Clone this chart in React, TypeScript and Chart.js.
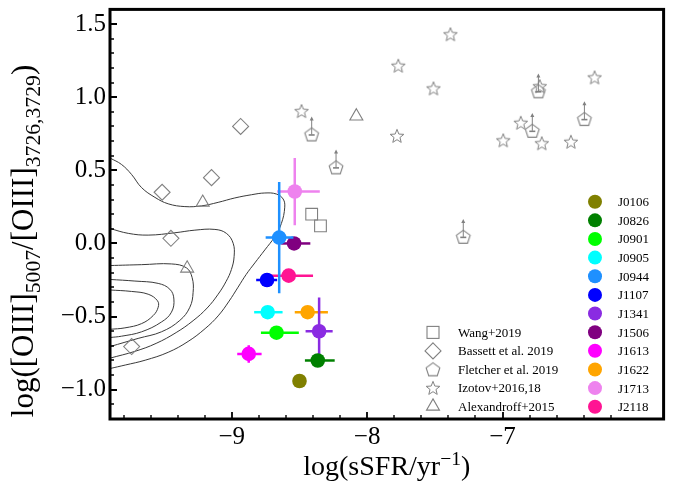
import React, { useEffect, useRef } from 'react';
import { Chart, registerables } from 'chart.js';

Chart.register(...registerables);

const FONT = "'Liberation Serif', 'Times New Roman', serif";

// ---------- axes ----------
const X_MIN = -9.9;
const X_MAX = -5.81;
const Y_MIN = -1.2;
const Y_MAX = 1.6;
const xMajorTicks = [-9, -8, -7];
const xMinorTicks = [-9.8, -9.6, -9.4, -9.2, -8.8, -8.6, -8.4, -8.2, -7.8, -7.6, -7.4, -7.2, -6.8, -6.6, -6.4, -6.2];
const yMajorTicks = [-1.0, -0.5, 0.0, 0.5, 1.0, 1.5];
const yMinorTicks = [-1.1, -0.9, -0.8, -0.7, -0.6, -0.4, -0.3, -0.2, -0.1, 0.1, 0.2, 0.3, 0.4, 0.6, 0.7, 0.8, 0.9, 1.1, 1.2, 1.3, 1.4];

// ---------- this work ----------
const galaxyNames = ['J0106', 'J0826', 'J0901', 'J0905', 'J0944', 'J1107', 'J1341', 'J1506', 'J1613', 'J1622', 'J1713', 'J2118'];
const galaxyColors = ['#808000', '#008000', '#00ff00', '#00ffff', '#1e90ff', '#0000ff', '#8a2be2', '#800080', '#ff00ff', '#ffa500', '#ee82ee', '#ff1493'];
const galaxySSFR = [-8.50, -8.365, -8.67, -8.735, -8.65, -8.74, -8.355, -8.54, -8.875, -8.44, -8.535, -8.58];
const galaxyO32 = [-0.94, -0.80, -0.61, -0.47, 0.04, -0.25, -0.60, 0.0, -0.755, -0.47, 0.355, -0.22];
const galaxyXErrLo = [0, 0.095, 0.115, 0.10, 0.10, 0.08, 0.10, 0.095, 0.085, 0.095, 0.13, 0.14];
const galaxyXErrHi = [0, 0.125, 0.165, 0.11, 0.105, 0.075, 0.10, 0.12, 0.095, 0.15, 0.185, 0.18];
const galaxyYErr = [0, 0, 0, 0, 0.38, 0.03, 0.23, 0, 0.06, 0, 0.23, 0];

// ---------- literature ----------
const wangX = [-8.41, -8.345];
const wangY = [0.20, 0.12];
const bassettX = [-8.935, -9.15, -9.515, -9.45, -9.74];
const bassettY = [0.80, 0.45, 0.35, 0.035, -0.705];
const fletcherX = [-8.41, -8.23, -7.29, -6.735, -6.78, -6.395];
const fletcherY = [0.745, 0.52, 0.045, 1.04, 0.77, 0.85];
const fletcherArrow = 0.105;
const izotovX = [-8.485, -7.385, -7.77, -7.51, -7.78, -6.32, -6.725, -6.865, -6.995, -6.71, -6.495];
const izotovY = [0.905, 1.43, 1.215, 1.06, 0.735, 1.135, 1.075, 0.825, 0.705, 0.685, 0.695];
const alexX = [-9.215, -9.33, -8.08];
const alexY = [0.28, -0.17, 0.87];
const literatureLabels = ['Wang+2019', 'Bassett et al. 2019', 'Fletcher et al. 2019', 'Izotov+2016,18', 'Alexandroff+2015'];

// ---------- density contours (local SF galaxies) ----------
const contour1X = [-9.9, -9.815, -9.741, -9.667, -9.568, -9.47, -9.347, -9.224, -9.101, -8.978, -8.855, -8.756, -8.671, -8.621, -8.609, -8.634, -8.683, -8.756, -8.83, -8.894, -8.954, -9.02, -9.101, -9.197, -9.323, -9.47, -9.64, -9.787, -9.9];
const contour1Y = [0.584, 0.54, 0.472, 0.382, 0.315, 0.271, 0.252, 0.257, 0.281, 0.311, 0.333, 0.345, 0.338, 0.304, 0.248, 0.136, 0.046, -0.044, -0.133, -0.212, -0.299, -0.394, -0.495, -0.582, -0.67, -0.744, -0.798, -0.831, -0.855];
const contour2X = [-9.9, -9.765, -9.618, -9.421, -9.273, -9.125, -9.04, -8.99, -8.983, -9.003, -9.042, -9.101, -9.182, -9.286, -9.411, -9.559, -9.714, -9.9];
const contour2Y = [0.102, 0.069, 0.057, 0.073, 0.091, 0.096, 0.069, 0.001, -0.089, -0.178, -0.259, -0.347, -0.441, -0.528, -0.609, -0.683, -0.737, -0.784];
const contour3X = [-9.9, -9.667, -9.446, -9.335, -9.293, -9.286, -9.31, -9.384, -9.52, -9.692, -9.9];
const contour3Y = [-0.151, -0.145, -0.14, -0.167, -0.234, -0.335, -0.436, -0.526, -0.604, -0.649, -0.705];
const contour4X = [-9.9, -9.716, -9.544, -9.458, -9.428, -9.446, -9.52, -9.667, -9.815, -9.9];
const contour4Y = [-0.246, -0.257, -0.273, -0.313, -0.38, -0.47, -0.537, -0.604, -0.634, -0.643];
const contour5X = [-9.9, -9.741, -9.618, -9.549, -9.544, -9.581, -9.667, -9.79, -9.9];
const contour5Y = [-0.318, -0.328, -0.347, -0.392, -0.436, -0.493, -0.548, -0.577, -0.587];

const GRAY = '#808080';
const TICK_FONT = 25;
const XTITLE_FONT = 28;
const YTITLE_FONT = 31;
const LEGEND_FONT = 13;

const zip = (xs: number[], ys: number[]) => xs.map((x, i) => ({ x, y: ys[i] }));
const fmt = (v: number, d: number) => (v < 0 ? '\u2212' : '') + Math.abs(v).toFixed(d);

function makeStar(): HTMLCanvasElement {
  const c = document.createElement('canvas');
  c.width = 20; c.height = 20;
  const g = c.getContext('2d')!;
  const R = 7.2, r = 3.1;
  g.beginPath();
  for (let k = 0; k < 10; k++) {
    const a = -Math.PI / 2 + (k * Math.PI) / 5;
    const rr = k % 2 === 0 ? R : r;
    const px = 10 + rr * Math.cos(a), py = 10.6 + rr * Math.sin(a);
    if (k === 0) g.moveTo(px, py); else g.lineTo(px, py);
  }
  g.closePath();
  g.strokeStyle = GRAY; g.lineWidth = 1; g.stroke();
  return c;
}

function makePentagon(): HTMLCanvasElement {
  const c = document.createElement('canvas');
  c.width = 20; c.height = 20;
  const g = c.getContext('2d')!;
  const R = 7.2;
  g.beginPath();
  for (let k = 0; k < 5; k++) {
    const a = -Math.PI / 2 + (k * 2 * Math.PI) / 5;
    const px = 10 + R * Math.cos(a), py = 10.6 + R * Math.sin(a);
    if (k === 0) g.moveTo(px, py); else g.lineTo(px, py);
  }
  g.closePath();
  g.strokeStyle = GRAY; g.lineWidth = 1.1; g.stroke();
  return c;
}

function drawParts(ctx: CanvasRenderingContext2D, parts: { t: string; s: number; dy: number }[], x0: number, y0: number) {
  let x = x0;
  for (const p of parts) {
    ctx.font = `${p.s}px ${FONT}`;
    ctx.fillText(p.t, x, y0 + p.dy);
    x += ctx.measureText(p.t).width;
  }
}
function partsWidth(ctx: CanvasRenderingContext2D, parts: { t: string; s: number; dy: number }[]) {
  let w = 0;
  for (const p of parts) { ctx.font = `${p.s}px ${FONT}`; w += ctx.measureText(p.t).width; }
  return w;
}

export default function App() {
  const ref = useRef<HTMLCanvasElement>(null);

  useEffect(() => {
    const canvas = ref.current!;
    const starImg = makeStar();
    const pentImg = makePentagon();

    const datasets: any[] = [];
    const contours = [[contour1X, contour1Y], [contour2X, contour2Y], [contour3X, contour3Y], [contour4X, contour4Y], [contour5X, contour5Y]];
    contours.forEach(([cx, cy], k) => {
      datasets.push({
        label: 'contour' + k, data: zip(cx, cy), showLine: true, tension: 0.4,
        borderColor: '#3a3a3a', borderWidth: 1, pointRadius: 0, fill: false, order: 10,
      });
    });
    datasets.push({ label: literatureLabels[0], data: zip(wangX, wangY), pointStyle: 'rect', pointRadius: 8.3, borderColor: GRAY, backgroundColor: 'rgba(0,0,0,0)', borderWidth: 1.1, order: 5 });
    datasets.push({ label: literatureLabels[1], data: zip(bassettX, bassettY), pointStyle: 'rectRot', pointRadius: 8, borderColor: GRAY, backgroundColor: 'rgba(0,0,0,0)', borderWidth: 1.1, order: 5 });
    datasets.push({ label: literatureLabels[2], data: zip(fletcherX, fletcherY), pointStyle: pentImg, pointRadius: 7, order: 5, isFletcher: true });
    datasets.push({ label: literatureLabels[3], data: zip(izotovX, izotovY), pointStyle: starImg, pointRadius: 7, order: 5 });
    datasets.push({ label: literatureLabels[4], data: zip(alexX, alexY), pointStyle: 'triangle', pointRadius: 7.5, borderColor: GRAY, backgroundColor: 'rgba(0,0,0,0)', borderWidth: 1.1, order: 5 });
    galaxyNames.forEach((n, i) => {
      datasets.push({
        label: n, data: [{ x: galaxySSFR[i], y: galaxyO32[i] }], pointStyle: 'circle', pointRadius: 7.3,
        backgroundColor: galaxyColors[i], borderColor: galaxyColors[i], borderWidth: 0, order: 1, errIndex: i,
      });
    });

    const overlay = {
      id: 'overlay',
      beforeDatasetDraw(chart: any, args: any) {
        const ds = chart.data.datasets[args.index];
        if (ds.errIndex === undefined) return;
        const i = ds.errIndex;
        const xs = chart.scales.x, ys = chart.scales.y, ctx = chart.ctx;
        ctx.save();
        ctx.strokeStyle = galaxyColors[i];
        ctx.lineWidth = 2.5;
        ctx.beginPath();
        const py = ys.getPixelForValue(galaxyO32[i]);
        const px = xs.getPixelForValue(galaxySSFR[i]);
        if (galaxyXErrLo[i] || galaxyXErrHi[i]) {
          ctx.moveTo(xs.getPixelForValue(galaxySSFR[i] - galaxyXErrLo[i]), py);
          ctx.lineTo(xs.getPixelForValue(galaxySSFR[i] + galaxyXErrHi[i]), py);
        }
        if (galaxyYErr[i]) {
          ctx.moveTo(px, ys.getPixelForValue(galaxyO32[i] - galaxyYErr[i]));
          ctx.lineTo(px, ys.getPixelForValue(galaxyO32[i] + galaxyYErr[i]));
        }
        ctx.stroke();
        ctx.restore();
      },
      afterDatasetDraw(chart: any, args: any) {
        const ds = chart.data.datasets[args.index];
        if (!ds.isFletcher) return;
        const xs = chart.scales.x, ys = chart.scales.y, ctx = chart.ctx;
        ctx.save();
        ctx.strokeStyle = GRAY; ctx.fillStyle = GRAY;
        fletcherX.forEach((fx, k) => {
          const px = xs.getPixelForValue(fx);
          const py = ys.getPixelForValue(fletcherY[k]);
          const tip = ys.getPixelForValue(fletcherY[k] + fletcherArrow);
          ctx.lineWidth = 1;
          ctx.beginPath(); ctx.moveTo(px, py); ctx.lineTo(px, tip); ctx.stroke();
          ctx.lineWidth = 1.6;
          ctx.beginPath(); ctx.moveTo(px - 3, py + 0.5); ctx.lineTo(px + 3, py + 0.5); ctx.stroke();
          ctx.beginPath(); ctx.moveTo(px, tip - 2.5); ctx.lineTo(px - 2, tip + 1.5); ctx.lineTo(px + 2, tip + 1.5); ctx.closePath(); ctx.fill();
        });
        ctx.restore();
      },
      afterDraw(chart: any) {
        const ctx = chart.ctx as CanvasRenderingContext2D;
        const a = chart.chartArea;
        const xs = chart.scales.x, ys = chart.scales.y;
        ctx.save();
        // ticks (inward)
        ctx.strokeStyle = '#000';
        ctx.lineWidth = 1.8;
        ctx.beginPath();
        xMajorTicks.forEach((v) => { const p = Math.round(xs.getPixelForValue(v)); ctx.moveTo(p, a.bottom); ctx.lineTo(p, a.bottom - 7); });
        yMajorTicks.forEach((v) => { const p = Math.round(ys.getPixelForValue(v)); ctx.moveTo(a.left, p); ctx.lineTo(a.left + 7, p); });
        ctx.stroke();
        ctx.lineWidth = 1.4;
        ctx.beginPath();
        xMinorTicks.forEach((v) => { const p = Math.round(xs.getPixelForValue(v)); ctx.moveTo(p, a.bottom); ctx.lineTo(p, a.bottom - 4); });
        yMinorTicks.forEach((v) => { const p = Math.round(ys.getPixelForValue(v)); ctx.moveTo(a.left, p); ctx.lineTo(a.left + 4, p); });
        ctx.stroke();
        // frame
        ctx.lineWidth = 3;
        ctx.strokeRect(a.left, a.top, a.right - a.left, a.bottom - a.top);

        // literature legend
        ctx.fillStyle = '#000';
        ctx.textBaseline = 'middle';
        ctx.textAlign = 'left';
        const lx = a.left + 323, ltx = a.left + 348;
        literatureLabels.forEach((lab, k) => {
          const y = a.top + 323 + k * 18.5;
          ctx.save();
          ctx.strokeStyle = GRAY; ctx.lineWidth = 1.1;
          if (k === 0) { ctx.strokeRect(lx - 6, y - 6, 12, 12); }
          else if (k === 1) { ctx.beginPath(); ctx.moveTo(lx, y - 8); ctx.lineTo(lx + 8, y); ctx.lineTo(lx, y + 8); ctx.lineTo(lx - 8, y); ctx.closePath(); ctx.stroke(); }
          else if (k === 2) { ctx.drawImage(pentImg, lx - 10, y - 10); }
          else if (k === 3) { ctx.drawImage(starImg, lx - 10, y - 10); }
          else { ctx.beginPath(); ctx.moveTo(lx, y - 7.5); ctx.lineTo(lx + 6.5, y + 3.75); ctx.lineTo(lx - 6.5, y + 3.75); ctx.closePath(); ctx.stroke(); }
          ctx.restore();
          ctx.font = `${LEGEND_FONT}px ${FONT}`;
          ctx.fillText(lab, ltx, y + 1);
        });
        // galaxy legend
        const gx = a.left + 485, gtx = a.left + 508;
        galaxyNames.forEach((n, k) => {
          const y = a.top + 192.3 + k * 18.64;
          ctx.fillStyle = galaxyColors[k];
          ctx.beginPath(); ctx.arc(gx, y, 7, 0, Math.PI * 2); ctx.fill();
          ctx.fillStyle = '#000';
          ctx.font = `${LEGEND_FONT}px ${FONT}`;
          ctx.fillText(n, gtx, y + 1);
        });

        // x title
        ctx.textBaseline = 'alphabetic';
        const xParts = [
          { t: 'log(sSFR/yr', s: XTITLE_FONT, dy: 0 },
          { t: '\u22121', s: XTITLE_FONT * 0.7, dy: -XTITLE_FONT * 0.36 },
          { t: ')', s: XTITLE_FONT, dy: 0 },
        ];
        const xw = partsWidth(ctx, xParts);
        drawParts(ctx, xParts, (a.left + a.right) / 2 - xw / 2, 475);

        // y title
        const yParts = [
          { t: 'log([OIII]', s: YTITLE_FONT, dy: 0 },
          { t: '5007', s: YTITLE_FONT * 0.7, dy: YTITLE_FONT * 0.22 },
          { t: '/[OIII]', s: YTITLE_FONT, dy: 0 },
          { t: '3726,3729', s: YTITLE_FONT * 0.7, dy: YTITLE_FONT * 0.22 },
          { t: ')', s: YTITLE_FONT, dy: 0 },
        ];
        const yw = partsWidth(ctx, yParts);
        ctx.translate(33, 241);
        ctx.rotate(-Math.PI / 2);
        drawParts(ctx, yParts, -yw / 2, 0);
        ctx.restore();
      },
    };

    const chart = new Chart(canvas, {
      type: 'scatter',
      data: { datasets },
      options: {
        responsive: false,
        animation: false,
        events: [],
        layout: { padding: { left: 0, right: 9, top: 6, bottom: 0 } },
        plugins: { legend: { display: false }, tooltip: { enabled: false } },
        scales: {
          x: {
            type: 'linear', min: X_MIN, max: X_MAX,
            grid: { display: false, drawTicks: false },
            border: { display: false },
            afterBuildTicks: (s: any) => { s.ticks = xMajorTicks.map((v) => ({ value: v })); },
            afterFit: (s: any) => { s.height = 66; s.paddingLeft = 0; s.paddingRight = 0; },
            ticks: { font: { family: FONT, size: TICK_FONT }, color: '#000', padding: 3, maxRotation: 0, autoSkip: false, callback: (v: any) => fmt(Number(v), 0) },
          },
          y: {
            type: 'linear', min: Y_MIN, max: Y_MAX,
            grid: { display: false, drawTicks: false },
            border: { display: false },
            afterBuildTicks: (s: any) => { s.ticks = yMajorTicks.map((v) => ({ value: v })); },
            afterFit: (s: any) => { s.width = 110; s.paddingTop = 0; s.paddingBottom = 0; },
            ticks: { font: { family: FONT, size: TICK_FONT }, color: '#000', padding: 4, autoSkip: false, callback: (v: any) => fmt(Number(v), 1) },
          },
        },
      },
      plugins: [overlay],
    } as any);

    return () => chart.destroy();
  }, []);

  return (
    <div style={{ position: 'absolute', left: 0, top: 0, width: 673, height: 485, background: '#fff' }}>
      <canvas ref={ref} width={673} height={485} style={{ display: 'block' }} />
    </div>
  );
}
